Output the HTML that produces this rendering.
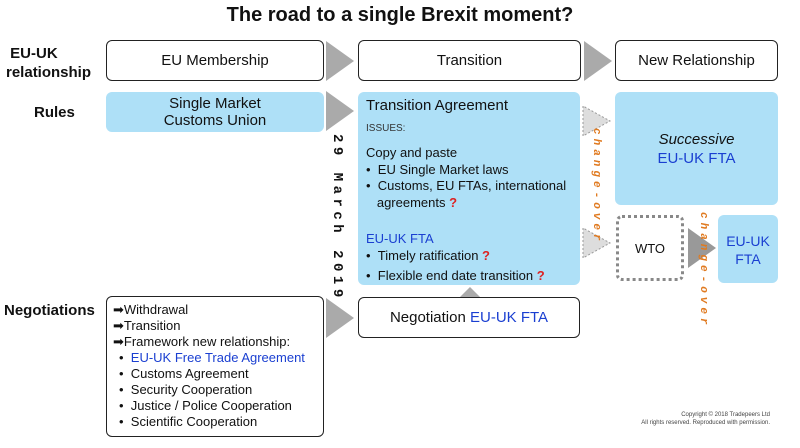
<!DOCTYPE html>
<html><head><style>
body{margin:0;width:800px;height:448px;background:#fff;font-family:"Liberation Sans",sans-serif;position:relative;overflow:hidden;color:#111}
.a{position:absolute}
.box{position:absolute;box-sizing:border-box;border:1.5px solid #222;border-radius:6px;background:#fff;display:flex;align-items:center;justify-content:center;font-size:15px}
.blue{position:absolute;box-sizing:border-box;background:#aee0f7;border-radius:6px}
.lbl{position:absolute;font-weight:bold;font-size:15px}
.b{color:#1a3fd1}
.q{color:#d22;font-weight:bold}
.tri{position:absolute;width:0;height:0;border-top:20px solid transparent;border-bottom:20px solid transparent;border-left:28px solid #aaa}
.co{position:absolute;writing-mode:vertical-rl;color:#e07a20;font-family:"Liberation Mono",monospace;font-weight:bold;font-style:italic;font-size:11px;letter-spacing:4px}
</style></head><body>
<div class="a" style="left:0;width:800px;top:4px;text-align:center;font-weight:bold;font-size:20px">The road to a single Brexit moment?</div>

<div class="lbl" style="left:6px;top:44px;line-height:19px">&nbsp;EU-UK<br>relationship</div>
<div class="lbl" style="left:34px;top:104px">Rules</div>
<div class="lbl" style="left:4px;top:302px">Negotiations</div>

<div class="box" style="left:106px;top:40px;width:218px;height:41px">EU Membership</div>
<div class="box" style="left:358px;top:40px;width:223px;height:41px">Transition</div>
<div class="box" style="left:615px;top:40px;width:163px;height:41px">New Relationship</div>
<div class="tri" style="left:326px;top:41px"></div>
<div class="tri" style="left:584px;top:41px"></div>

<div class="blue" style="left:106px;top:92px;width:218px;height:40px;text-align:center;font-size:15px;line-height:17px;padding-top:3px">Single Market<br>Customs Union</div>
<div class="tri" style="left:326px;top:91px"></div>

<div class="blue" style="left:358px;top:92px;width:222px;height:193px;padding:6px 0 0 8px;font-size:13px;line-height:16.5px">
<div style="font-size:15px;margin-bottom:6px">Transition Agreement</div>
<div style="font-size:10px;color:#333;margin-bottom:8px">ISSUES:</div>
<div>Copy and paste</div>
<div>• &nbsp;EU Single Market laws</div>
<div>• &nbsp;Customs, EU FTAs, international</div>
<div>&nbsp;&nbsp;&nbsp;agreements <span class="q">?</span></div>
<div class="b" style="margin-top:20px">EU-UK FTA</div>
<div>• &nbsp;Timely ratification <span class="q">?</span></div>
<div style="margin-top:4px">• &nbsp;Flexible end date transition <span class="q">?</span></div>
</div>

<div class="a" style="left:329px;top:134px;writing-mode:vertical-rl;font-family:'Liberation Mono',monospace;font-weight:bold;font-size:14px;letter-spacing:4.5px">29 March 2019</div>

<div class="blue" style="left:615px;top:92px;width:163px;height:113px;text-align:center;font-size:15px;line-height:19px;padding-top:38px"><i>Successive</i><br><span class="b">EU-UK FTA</span></div>

<div class="a" style="left:616px;top:215px;width:68px;height:66px;box-sizing:border-box;border:3px dotted #888;border-radius:6px;display:flex;align-items:center;justify-content:center;font-size:13px">WTO</div>
<div class="tri" style="left:688px;top:228px;border-left-color:#999"></div>
<div class="blue" style="left:718px;top:215px;width:60px;height:68px;text-align:center;font-size:14px;line-height:18px;padding-top:17px;color:#1a3fd1">EU-UK<br>FTA</div>

<svg class="a" style="left:580px;top:100px" width="36" height="170">
<polygon points="3,6 3,36 30,21" fill="#ddd" stroke="#999" stroke-dasharray="2,2"/>
<polygon points="3,128 3,158 30,143" fill="#ddd" stroke="#999" stroke-dasharray="2,2"/>
</svg>
<div class="co" style="left:590px;top:128px">change-over</div>
<div class="co" style="left:697px;top:212px">change-over</div>

<svg class="a" style="left:460px;top:284px" width="20" height="14"><polygon points="0,13 10,3 20,13" fill="#aaa"/></svg>
<div class="box" style="left:358px;top:297px;width:222px;height:41px">Negotiation&nbsp;<span class="b">EU-UK FTA</span></div>
<div class="tri" style="left:326px;top:298px"></div>

<div class="box" style="left:106px;top:296px;width:218px;height:141px;display:block;padding:5px 0 0 6px;font-size:13px;line-height:16px">
<div>➡Withdrawal</div><div>➡Transition</div><div>➡Framework new relationship:</div>
<div style="padding-left:6px">• &nbsp;<span class="b">EU-UK Free Trade Agreement</span></div>
<div style="padding-left:6px">• &nbsp;Customs Agreement</div>
<div style="padding-left:6px">• &nbsp;Security Cooperation</div>
<div style="padding-left:6px">• &nbsp;Justice / Police Cooperation</div>
<div style="padding-left:6px">• &nbsp;Scientific Cooperation</div>
</div>

<div class="a" style="left:620px;top:411px;width:150px;text-align:right;font-size:6px;line-height:8px;color:#444">Copyright © 2018 Tradepeers Ltd<br>All rights reserved. Reproduced with permission.</div>
</body></html>
